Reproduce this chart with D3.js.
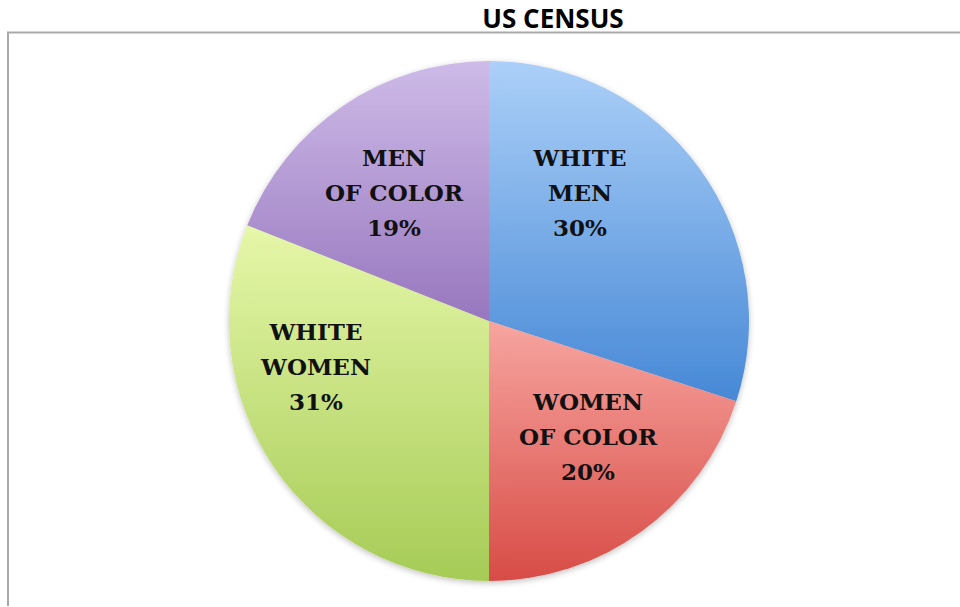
<!DOCTYPE html>
<html>
<head>
<meta charset="utf-8">
<script src="https://cdn.jsdelivr.net/npm/d3@7"></script>
<style>
  body { margin: 0; background: #fff; }
</style>
</head>
<body>
<svg id="chart" width="960" height="607"></svg>
<script>
// data
const categories = ["WHITE MEN", "WOMEN OF COLOR", "WHITE WOMEN", "MEN OF COLOR"];
const values = [30, 20, 31, 19];
const labelLines = [
  ["WHITE", "MEN", "30%"],
  ["WOMEN", "OF COLOR", "20%"],
  ["WHITE", "WOMEN", "31%"],
  ["MEN", "OF COLOR", "19%"],
];
const title = "US CENSUS";

// styling
const colorsTop = ["#acd0f8", "#f7a5a0", "#e6f7a9", "#cebbe8"];
const colorsBottom = ["#4688d6", "#d84c46", "#a6cb56", "#9777be"];
const labelPos = [[580, 166], [588, 410], [316, 340], [394, 166]];

const width = 960;
const height = 607;
const cx = 489;
const cy = 321;
const radius = 260;

const svg = d3.select("#chart");
const defs = svg.append("defs");

// frame
svg.append("path")
  .attr("d", `M8,606 L8,32.5 L${width + 5},32.5`)
  .attr("fill", "none")
  .attr("stroke", "#aaaaaa")
  .attr("stroke-width", 2);

svg.append("text")
  .attr("x", 553)
  .attr("y", 28)
  .attr("text-anchor", "middle")
  .attr("font-family", "'Open Sans', 'Noto Sans', sans-serif")
  .attr("font-weight", "bold")
  .attr("font-size", 26)
  .attr("fill", "#000")
  .text(title);

// soft shadow
const shadow = defs.append("filter").attr("id", "shadow")
  .attr("x", "-10%").attr("y", "-10%").attr("width", "120%").attr("height", "120%");
shadow.append("feGaussianBlur").attr("in", "SourceAlpha").attr("stdDeviation", 3);
shadow.append("feOffset").attr("dx", 0).attr("dy", 2).attr("result", "b");
shadow.append("feComponentTransfer").append("feFuncA").attr("type", "linear").attr("slope", 0.25);
const merge = shadow.append("feMerge");
merge.append("feMergeNode");
merge.append("feMergeNode").attr("in", "SourceGraphic");

const pie = d3.pie().sort(null).value(d => d);
const arc = d3.arc().innerRadius(0).outerRadius(radius);
const arcs = pie(values);

// each gradient runs over its slice's own vertical extent (coords relative to pie centre)
arcs.forEach((a, i) => {
  const ys = [0];
  for (let t = a.startAngle; t <= a.endAngle; t += 0.01) ys.push(-Math.cos(t) * radius);
  ys.push(-Math.cos(a.endAngle) * radius);
  const g = defs.append("linearGradient")
    .attr("id", "grad" + i)
    .attr("gradientUnits", "userSpaceOnUse")
    .attr("x1", 0).attr("y1", d3.min(ys))
    .attr("x2", 0).attr("y2", d3.max(ys));
  g.append("stop").attr("offset", "0%").attr("stop-color", colorsTop[i]);
  g.append("stop").attr("offset", "100%").attr("stop-color", colorsBottom[i]);
});

const gPie = svg.append("g")
  .attr("transform", `translate(${cx},${cy})`)
  .attr("filter", "url(#shadow)");

gPie.selectAll("path")
  .data(arcs)
  .join("path")
  .attr("d", arc)
  .attr("fill", (d, i) => `url(#grad${i})`);

const labels = svg.append("g")
  .attr("font-family", "'DejaVu Serif', serif")
  .attr("font-weight", "bold")
  .attr("font-size", 23)
  .attr("fill", "#111");

labelLines.forEach((lines, i) => {
  const t = labels.append("text")
    .attr("x", labelPos[i][0])
    .attr("y", labelPos[i][1])
    .attr("text-anchor", "middle");
  lines.forEach((line, j) => {
    t.append("tspan")
      .attr("x", labelPos[i][0])
      .attr("dy", j === 0 ? 0 : 35)
      .text(line);
  });
});
</script>
</body>
</html>
